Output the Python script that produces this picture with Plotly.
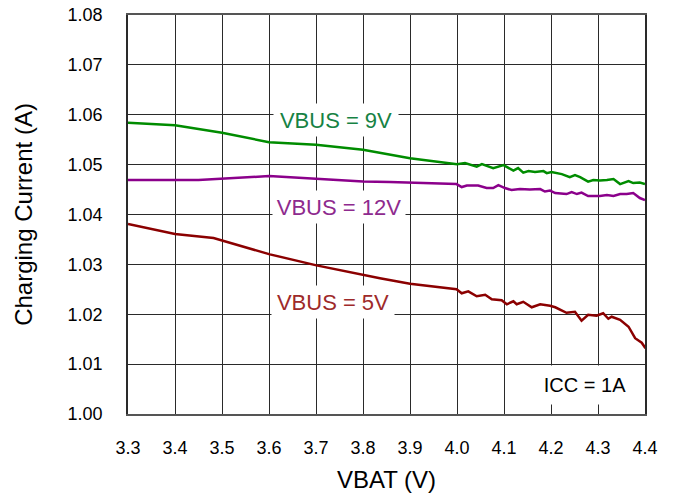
import plotly.graph_objects as go

# VBUS = 9V
x_9v = [3.30, 3.40, 3.50, 3.60, 3.70, 3.80, 3.90, 4.000, 4.017, 4.042, 4.053, 4.077, 4.099,
        4.120, 4.130, 4.141, 4.152, 4.166, 4.184, 4.191, 4.201, 4.223, 4.240, 4.251, 4.262,
        4.279, 4.290, 4.304, 4.319, 4.333, 4.347, 4.365, 4.375, 4.389, 4.400]
y_9v = [1.0584, 1.0579, 1.0564, 1.0545, 1.0540, 1.0530, 1.0513, 1.0501, 1.0503, 1.0496, 1.0501,
        1.0493, 1.0499, 1.0488, 1.0493, 1.0484, 1.0487, 1.0485, 1.0487, 1.0483, 1.0485, 1.0481,
        1.0475, 1.0479, 1.0475, 1.0466, 1.0469, 1.0468, 1.0469, 1.0471, 1.0461, 1.0467, 1.0463,
        1.0464, 1.0461]

# VBUS = 12V
x_12v = [3.30, 3.40, 3.45, 3.60, 3.70, 3.80, 3.857, 3.90, 3.999, 4.010, 4.021, 4.045, 4.063,
         4.077, 4.088, 4.102, 4.116, 4.134, 4.155, 4.177, 4.187, 4.198, 4.209, 4.233, 4.244,
         4.255, 4.265, 4.279, 4.304, 4.319, 4.333, 4.347, 4.361, 4.375, 4.389, 4.400]
y_12v = [1.0469, 1.0469, 1.0469, 1.0477, 1.0472, 1.0466, 1.0465, 1.0464, 1.0461, 1.0455, 1.0458,
         1.0458, 1.0453, 1.0453, 1.0459, 1.0453, 1.0449, 1.0451, 1.0450, 1.0451, 1.0446, 1.0448,
         1.0443, 1.0441, 1.0445, 1.0441, 1.0444, 1.0437, 1.0437, 1.0439, 1.0437, 1.0441, 1.0441,
         1.0443, 1.0433, 1.0429]

# VBUS = 5V
x_5v = [3.30, 3.40, 3.482, 3.50, 3.602, 3.701, 3.751, 3.80, 3.836, 3.90, 3.999, 4.010, 4.024,
        4.042, 4.060, 4.074, 4.095, 4.106, 4.120, 4.127, 4.141, 4.159, 4.177, 4.198, 4.209,
        4.233, 4.251, 4.265, 4.279, 4.297, 4.311, 4.322, 4.329, 4.347, 4.365, 4.379, 4.393, 4.401]
y_5v = [1.0381, 1.0361, 1.0353, 1.0348, 1.0320, 1.0298, 1.0288, 1.0279, 1.0272, 1.0261, 1.0250,
        1.0242, 1.0246, 1.0236, 1.0239, 1.0230, 1.0228, 1.0220, 1.0226, 1.0220, 1.0225, 1.0214,
        1.0220, 1.0217, 1.0214, 1.0203, 1.0205, 1.0187, 1.0199, 1.0197, 1.0202, 1.0191, 1.0195,
        1.0189, 1.0175, 1.0152, 1.0143, 1.0132]

x_ticks = [3.3, 3.4, 3.5, 3.6, 3.7, 3.8, 3.9, 4.0, 4.1, 4.2, 4.3, 4.4]
x_tick_labels = ["3.3", "3.4", "3.5", "3.6", "3.7", "3.8", "3.9", "4.0", "4.1", "4.2", "4.3", "4.4"]
y_ticks = [1.00, 1.01, 1.02, 1.03, 1.04, 1.05, 1.06, 1.07, 1.08]
y_tick_labels = ["1.00", "1.01", "1.02", "1.03", "1.04", "1.05", "1.06", "1.07", "1.08"]

series_names = ["VBUS = 9V", "VBUS = 12V", "VBUS = 5V"]
line_colors = ["#008c00", "#8b008b", "#8b0000"]
text_colors = ["#168244", "#8e2a8e", "#9e2a2a"]

FONT = "Liberation Sans, Arial, sans-serif"

fig = go.Figure()
for xs, ys, name, col in zip([x_9v, x_12v, x_5v], [y_9v, y_12v, y_5v], series_names, line_colors):
    fig.add_trace(go.Scatter(x=xs, y=ys, mode="lines", name=name,
                             line=dict(color=col, width=2.5), showlegend=False))

label_pos = [(3.743, 1.0589), (3.749, 1.0415), (3.736, 1.0225)]
label_w = [122, 130, 120]
for (lx, ly), w, name, tc in zip(label_pos, label_w, series_names, text_colors):
    fig.add_annotation(x=lx, y=ly, xref="x", yref="y", text=name, showarrow=False,
                       font=dict(family=FONT, size=22, color=tc),
                       bgcolor="white", width=w, height=30)

fig.add_annotation(x=4.272, y=1.0058, xref="x", yref="y", text="ICC = 1A", showarrow=False,
                   font=dict(family=FONT, size=20, color="black"),
                   bgcolor="white", width=108, height=36)

grid = "#2a2a2a"
fig.update_xaxes(range=[3.3, 4.4], tickvals=x_ticks, ticktext=x_tick_labels,
                 showline=True, linecolor="#555555", linewidth=2, mirror=True,
                 showgrid=True, gridcolor=grid, gridwidth=1, ticks="",
                 ticklabelstandoff=16, ticklabeloverflow="allow",
                 tickfont=dict(family=FONT, size=18, color="black"), zeroline=False,
                 title=dict(text="VBAT (V)", font=dict(family=FONT, size=24, color="black"), standoff=15))
fig.update_yaxes(range=[1.00, 1.08], tickvals=y_ticks, ticktext=y_tick_labels,
                 showline=True, linecolor=grid, linewidth=1.5, mirror=True,
                 showgrid=True, gridcolor=grid, gridwidth=1, ticks="",
                 ticklabelstandoff=20, ticklabeloverflow="allow",
                 tickfont=dict(family=FONT, size=18, color="black"), zeroline=False,
                 title=dict(text="Charging Current (A)", font=dict(family=FONT, size=24, color="black"), standoff=28))

fig.update_layout(width=675, height=500, paper_bgcolor="white", plot_bgcolor="white",
                  margin=dict(l=128, r=30, t=15, b=86, autoexpand=False), font=dict(family=FONT))

fig.write_html("out.html", config={"displayModeBar": False},
               post_script="document.body.style.margin='0';")
